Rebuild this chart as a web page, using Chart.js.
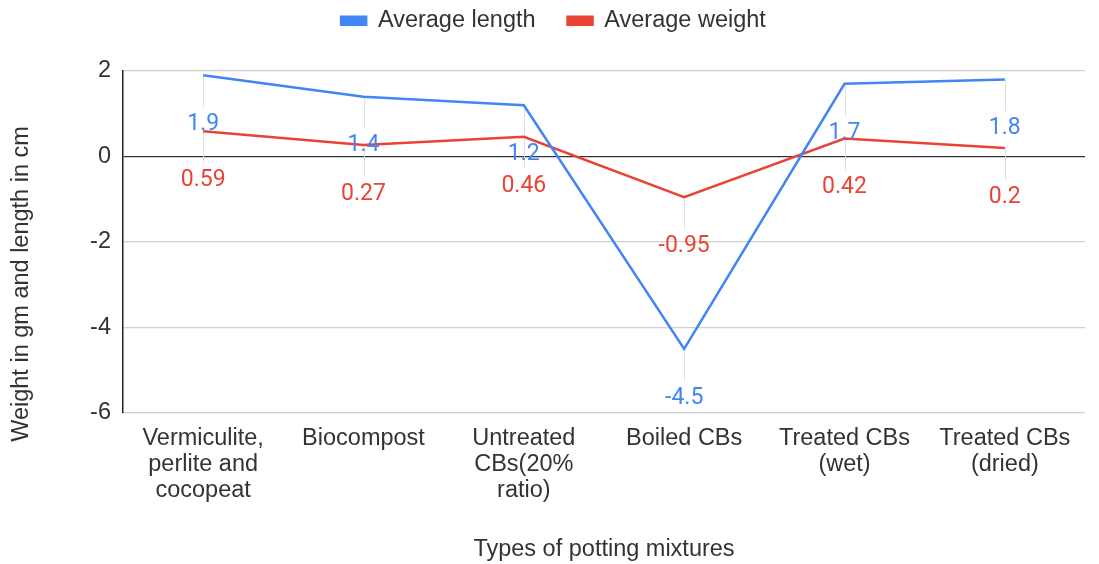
<!DOCTYPE html>
<html>
<head>
<meta charset="utf-8">
<script src="https://cdn.jsdelivr.net/npm/chart.js@4.4.1/dist/chart.umd.min.js"></script>
<style>
  html, body { margin: 0; padding: 0; background: #fff; }
  #wrap { width: 1099px; height: 564px; }
</style>
</head>
<body>
<div id="wrap"><canvas id="chart" width="1099" height="564"></canvas></div>
<script>
// data
const categories = [
  ['Vermiculite,', 'perlite and', 'cocopeat'],
  'Biocompost',
  ['Untreated', 'CBs(20%', 'ratio)'],
  'Boiled CBs',
  ['Treated CBs', '(wet)'],
  ['Treated CBs', '(dried)']
];
const avgLength = [1.9, 1.4, 1.2, -4.5, 1.7, 1.8];
const avgWeight = [0.59, 0.27, 0.46, -0.95, 0.42, 0.2];
const yTicks = [-6, -4, -2, 0, 2];
const yTitle = 'Weight in gm and length in cm';
const xTitle = 'Types of potting mixtures';

const BLUE = '#4285F4';
const RED = '#EA4335';
const FONT = '"Liberation Sans", Arial, sans-serif';
const LABEL_FONT = 'Roboto';
const TEXT = '#333';
const SIZE = 23.5;

// data labels under each point, with a thin leader line (Sheets style)
const pointLabels = {
  id: 'pointLabels',
  beforeDatasetsDraw(chart) {
    const ctx = chart.ctx;
    ctx.save();
    ctx.strokeStyle = '#e0e0e0';
    ctx.lineWidth = 1;
    chart.data.datasets.forEach((ds, i) => {
      chart.getDatasetMeta(i).data.forEach(pt => {
        ctx.beginPath();
        ctx.moveTo(Math.round(pt.x) + 0.5, pt.y);
        ctx.lineTo(Math.round(pt.x) + 0.5, pt.y + 32);
        ctx.stroke();
      });
    });
    ctx.restore();
  },
  afterDatasetsDraw(chart) {
    const ctx = chart.ctx;
    ctx.save();
    ctx.font = '23px ' + LABEL_FONT;
    ctx.textAlign = 'center';
    ctx.textBaseline = 'middle';
    chart.data.datasets.forEach((ds, i) => {
      ctx.fillStyle = ds.borderColor;
      chart.getDatasetMeta(i).data.forEach((pt, j) => {
        ctx.fillText(String(ds.data[j]), pt.x, pt.y + 49);
      });
    });
    ctx.restore();
  }
};

// y axis title sits centred on the whole figure height, not the plot
const yAxisTitle = {
  id: 'yAxisTitle',
  afterDraw(chart) {
    const ctx = chart.ctx;
    ctx.save();
    ctx.translate(22, 284);
    ctx.rotate(-Math.PI / 2);
    ctx.font = SIZE + 'px ' + FONT;
    ctx.fillStyle = TEXT;
    ctx.textAlign = 'center';
    ctx.textBaseline = 'middle';
    ctx.fillText(yTitle, 0, 0);
    ctx.restore();
  }
};

// fixed legend band height, items drawn a bit higher than the padding implies
const legendBand = {
  id: 'legendBand',
  beforeInit(chart) {
    const lg = chart.legend;
    const fit = lg.fit;
    lg.fit = function () {
      fit.call(this);
      this.height = 71;
    };
    const draw = lg.draw;
    lg.draw = function () {
      const top = this.top, left = this.left;
      this.top = top - 23;
      this.left = left + 22;
      draw.call(this);
      this.top = top;
      this.left = left;
    };
  }
};

new Chart(document.getElementById('chart'), {
  type: 'line',
  data: {
    labels: categories,
    datasets: [
      {
        label: 'Average length',
        data: avgLength,
        borderColor: BLUE,
        backgroundColor: BLUE,
        borderWidth: 2.5,
        pointRadius: 0,
        tension: 0
      },
      {
        label: 'Average weight',
        data: avgWeight,
        borderColor: RED,
        backgroundColor: RED,
        borderWidth: 2.5,
        pointRadius: 0,
        tension: 0
      }
    ]
  },
  options: {
    responsive: false,
    animation: false,
    devicePixelRatio: 1,
    layout: { padding: { top: 0, right: 14, bottom: 0, left: 0 } },
    plugins: {
      legend: {
        position: 'top',
        labels: {
          font: { family: FONT, size: SIZE },
          color: TEXT,
          boxWidth: 25,
          boxHeight: 8,
          padding: 32
        }
      },
      tooltip: { enabled: false }
    },
    scales: {
      x: {
        offset: true,
        grid: { display: false },
        border: { display: false },
        ticks: {
          font: { family: FONT, size: SIZE, lineHeight: 1.1 },
          color: TEXT,
          maxRotation: 0,
          autoSkip: false,
          padding: 5
        },
        title: {
          display: true,
          text: xTitle,
          font: { family: FONT, size: SIZE },
          color: TEXT,
          padding: { top: 4, bottom: 0 }
        },
        afterFit(scale) { scale.height = 151; }
      },
      y: {
        min: -6,
        max: 2,
        afterBuildTicks(scale) { scale.ticks = yTicks.map(v => ({ value: v })); },
        grid: {
          color: ctx => (ctx.tick && ctx.tick.value === 0 ? '#333' : '#d0d0d0'),
          lineWidth: 1.2,
          drawTicks: false
        },
        border: { display: true, color: '#222', width: 1.5 },
        ticks: {
          font: { family: FONT, size: SIZE },
          color: TEXT,
          padding: 12
        },
        title: { display: false },
        afterFit(scale) { scale.width = 123; }
      }
    }
  },
  plugins: [pointLabels, legendBand, yAxisTitle]
});
</script>
</body>
</html>
